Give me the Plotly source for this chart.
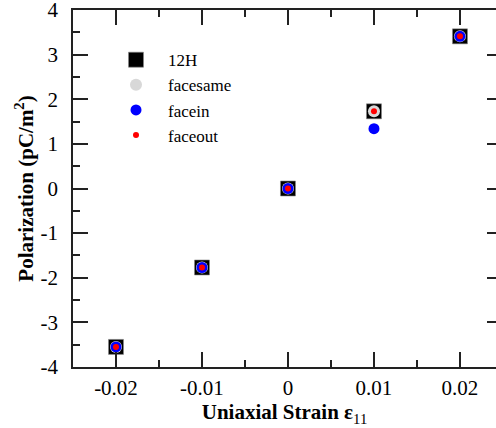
import plotly.graph_objects as go

strain = [-0.02, -0.01, 0.0, 0.01, 0.02]
p_12H = [-3.55, -1.77, 0.0, 1.73, 3.41]
p_facesame = [-3.55, -1.77, 0.0, 1.73, 3.41]
p_facein = [-3.55, -1.77, 0.0, 1.34, 3.41]
p_faceout = [-3.55, -1.77, 0.0, 1.73, 3.41]

x_ticks = [-0.02, -0.01, 0.0, 0.01, 0.02]
x_ticklabels = ["-0.02", "-0.01", "0", "0.01", "0.02"]
y_ticks = [-4, -3, -2, -1, 0, 1, 2, 3, 4]
y_ticklabels = ["-4", "-3", "-2", "-1", "0", "1", "2", "3", "4"]

FONT = "Liberation Serif"
AX = "#222222"

fig = go.Figure()
fig.add_trace(go.Scatter(x=strain, y=p_12H, mode="markers", name="12H",
                         marker=dict(symbol="square", size=15, color="black",
                                     line=dict(width=0.6, color="#888"))))
fig.add_trace(go.Scatter(x=strain, y=p_facesame, mode="markers", name="facesame",
                         marker=dict(symbol="circle", size=12, color="#d8d8d8", line=dict(width=0))))
fig.add_trace(go.Scatter(x=strain, y=p_facein, mode="markers", name="facein",
                         marker=dict(symbol="circle", size=11, color="#0000ff", line=dict(width=0))))
fig.add_trace(go.Scatter(x=strain, y=p_faceout, mode="markers", name="faceout",
                         marker=dict(symbol="circle", size=6, color="#ff0000", line=dict(width=0))))
# invisible trace to carry the right-hand tick axis
fig.add_trace(go.Scatter(x=[strain[0]], y=[p_12H[0]], yaxis="y2", mode="markers",
                         marker=dict(opacity=0), showlegend=False, hoverinfo="skip"))

fig.update_layout(
    width=496, height=428,
    margin=dict(l=73, r=0, t=10, b=61, autoexpand=False),
    paper_bgcolor="white", plot_bgcolor="white",
    font=dict(family=FONT, size=21, color="black"),
    showlegend=True,
    legend=dict(x=0.0733, y=0.91, xanchor="left", yanchor="top",
                bgcolor="rgba(0,0,0,0)", font=dict(family=FONT, size=17),
                itemwidth=54, tracegroupgap=0),
    xaxis=dict(range=[-0.025, 0.02419], tickvals=x_ticks, ticktext=x_ticklabels,
               ticks="inside", ticklen=15, tickwidth=1.5, tickcolor=AX,
               showline=True, linewidth=1.8, linecolor=AX, mirror="ticks",
               showgrid=False, zeroline=False, automargin=False,
               minor=dict(ticks="inside", ticklen=7, tickwidth=1.5, tickcolor=AX, dtick=0.005, showgrid=False),
               tickfont=dict(family=FONT, size=21), ticklabelstandoff=1,
               ticklabeloverflow="allow",
               title=dict(text="<b>Uniaxial Strain ε</b><sub>11</sub>", font=dict(family=FONT, size=21), standoff=2)),
    yaxis=dict(range=[-4, 4], tickvals=y_ticks, ticktext=y_ticklabels,
               ticks="inside", ticklen=15, tickwidth=1.5, tickcolor=AX,
               showline=True, linewidth=1.8, linecolor=AX, mirror=False,
               showgrid=False, zeroline=False, automargin=False,
               minor=dict(ticks="inside", ticklen=7, tickwidth=1.5, tickcolor=AX, dtick=0.5, showgrid=False),
               tickfont=dict(family=FONT, size=21), ticklabelstandoff=9,
               ticklabeloverflow="allow",
               title=dict(text="<b>Polarization (pC/m<sup>2</sup>)</b>", font=dict(family=FONT, size=21), standoff=1)),
    yaxis2=dict(range=[-4, 4], tickvals=y_ticks, overlaying="y", side="right", anchor="x",
                ticks="inside", ticklen=9, tickwidth=1.5, tickcolor=AX, automargin=False,
                showline=False, showgrid=False, zeroline=False, showticklabels=False),
)

fig.write_html("out.html", config={"displayModeBar": False},
               post_script="document.body.style.margin='0px';document.body.style.overflow='hidden';")
